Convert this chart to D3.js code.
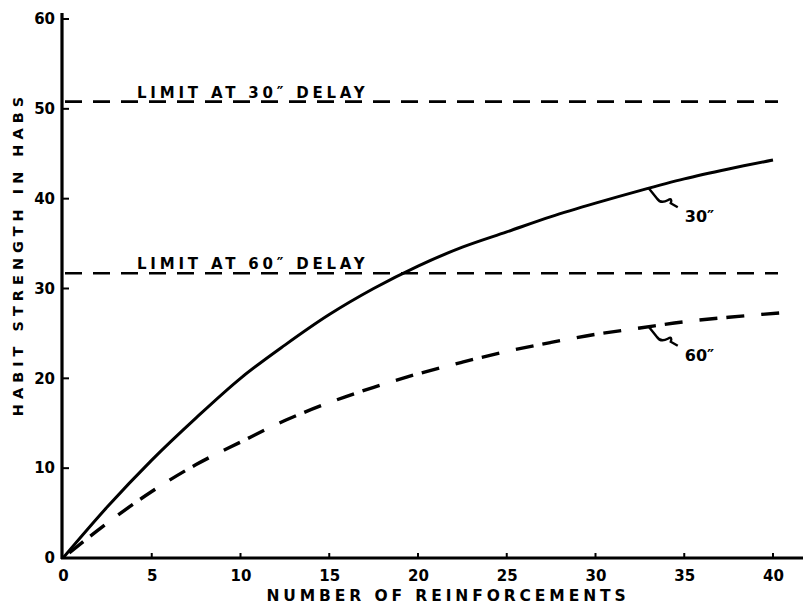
<!DOCTYPE html>
<html><head><meta charset="utf-8">
<script src="https://cdn.jsdelivr.net/npm/d3@7"></script>
<style>body{margin:0;background:#fff}svg{display:block}</style>
</head><body><svg id="c" width="805" height="608"></svg>
<script>
// Data
const reinforcements = [0, 2.5, 5, 7.5, 10, 12.5, 15, 17.5, 20, 22.5, 25, 27.5, 30, 32.5, 35, 37.5, 40];
const habit30 = [0, 5.7, 10.9, 15.6, 20.0, 23.7, 27.1, 30.0, 32.5, 34.6, 36.3, 38.0, 39.5, 40.9, 42.2, 43.3, 44.3];
const reinforcements60 = [0, 2.5, 5, 7.5, 10, 12.5, 15, 17.5, 20, 22.5, 25, 27.5, 30, 32.5, 35, 37.5, 40.5];
const habit60 = [0, 3.9, 7.4, 10.4, 12.9, 15.3, 17.3, 19.0, 20.5, 21.8, 23.0, 24.0, 24.9, 25.6, 26.3, 26.8, 27.3];
const limits = [{label: "LIMIT AT 30\u2033 DELAY", value: 50.8}, {label: "LIMIT AT 60\u2033 DELAY", value: 31.7}];
const xTicks = [0, 5, 10, 15, 20, 25, 30, 35, 40];
const yTicks = [0, 10, 20, 30, 40, 50, 60];
const curveLabels = [{text: "30\u2033", at: 33}, {text: "60\u2033", at: 33}];

const svg = d3.select("#c");
const x = d3.scaleLinear().domain([0, 40]).range([63, 773]);
const y = d3.scaleLinear().domain([0, 60]).range([558, 19]);
const font = "'DejaVu Sans', sans-serif";

// Axes
const gx = svg.append("g").attr("transform", `translate(0,${y(0)})`)
  .call(d3.axisBottom(x).tickValues(xTicks).tickSize(0).tickPadding(12));
gx.select(".domain").remove();
gx.selectAll("text").attr("font-family", font).attr("font-weight", "bold").attr("font-size", 15).attr("fill", "#000");
svg.append("line").attr("x1", x(0) - 2).attr("x2", 803).attr("y1", y(0)).attr("y2", y(0))
  .attr("stroke", "#000").attr("stroke-width", 3.2);
svg.selectAll(".xt").data(xTicks.slice(1)).join("line")
  .attr("x1", d => x(d)).attr("x2", d => x(d)).attr("y1", y(0)).attr("y2", y(0) - 5)
  .attr("stroke", "#000").attr("stroke-width", 2);

const gy = svg.append("g").attr("transform", `translate(${x(0)},0)`)
  .call(d3.axisLeft(y).tickValues(yTicks).tickSize(0).tickPadding(8));
gy.select(".domain").remove();
gy.selectAll("text").attr("font-family", font).attr("font-weight", "bold").attr("font-size", 15).attr("fill", "#000");
svg.append("line").attr("x1", x(0) - 1).attr("x2", x(0) - 1).attr("y1", y(0) + 1).attr("y2", 13)
  .attr("stroke", "#000").attr("stroke-width", 3.2);
svg.selectAll(".yt").data(yTicks.slice(1)).join("line")
  .attr("x1", x(0)).attr("x2", x(0) + 6).attr("y1", d => y(d)).attr("y2", d => y(d))
  .attr("stroke", "#000").attr("stroke-width", 2);

// Axis titles
svg.append("text").attr("x", 448).attr("y", 601).attr("text-anchor", "middle")
  .attr("font-family", font).attr("font-weight", "bold").attr("font-size", 15.5)
  .attr("letter-spacing", 3.9).text("NUMBER  OF  REINFORCEMENTS");
svg.append("text").attr("transform", "translate(23,254) rotate(-90)").attr("text-anchor", "middle")
  .attr("font-family", font).attr("font-weight", "bold").attr("font-size", 14.5)
  .attr("letter-spacing", 5).text("HABIT  STRENGTH  IN  HABS");

// Limit lines
limits.forEach(l => {
  svg.append("line").attr("x1", x(0) + 2).attr("x2", 778).attr("y1", y(l.value)).attr("y2", y(l.value))
    .attr("stroke", "#000").attr("stroke-width", 2.6).attr("stroke-dasharray", "17,11");
  svg.append("rect").attr("x", 134).attr("y", y(l.value) - 18).attr("width", 240).attr("height", 16).attr("fill", "#fff");
  svg.append("text").attr("x", 137).attr("y", y(l.value) - 4)
    .attr("font-family", font).attr("font-weight", "bold").attr("font-size", 15)
    .attr("letter-spacing", 3.8).text(l.label);
});

// Curves
const line = d3.line().x(d => x(d[0])).y(d => y(d[1])).curve(d3.curveMonotoneX);
svg.append("path").datum(reinforcements.map((r, i) => [r, habit30[i]])).attr("d", line)
  .attr("fill", "none").attr("stroke", "#000").attr("stroke-width", 3);
svg.append("path").datum(reinforcements60.map((r, i) => [r, habit60[i]])).attr("d", line)
  .attr("fill", "none").attr("stroke", "#000").attr("stroke-width", 3.4).attr("stroke-dasharray", "0,8,18,9,18,9");

// Curve labels with squiggle pointers
function interp(xs, ys, v) { return d3.scaleLinear().domain(xs).range(ys)(v); }
const series = [[reinforcements, habit30], [reinforcements60, habit60]];
curveLabels.forEach((c, i) => {
  const px = x(c.at), py = y(interp(series[i][0], series[i][1], c.at));
  svg.append("path")
    .attr("d", `M${px},${py} L${px + 8},${py + 10} Q${px + 12},${py + 16} ${px + 19},${py + 12} Q${px + 24},${py + 9} ${px + 22},${py + 15} L${px + 29},${py + 19}`)
    .attr("fill", "none").attr("stroke", "#000").attr("stroke-width", 2.4);
  svg.append("text").attr("x", px + 36).attr("y", py + 34)
    .attr("font-family", font).attr("font-weight", "bold").attr("font-size", 16).text(c.text);
});
</script></body></html>
